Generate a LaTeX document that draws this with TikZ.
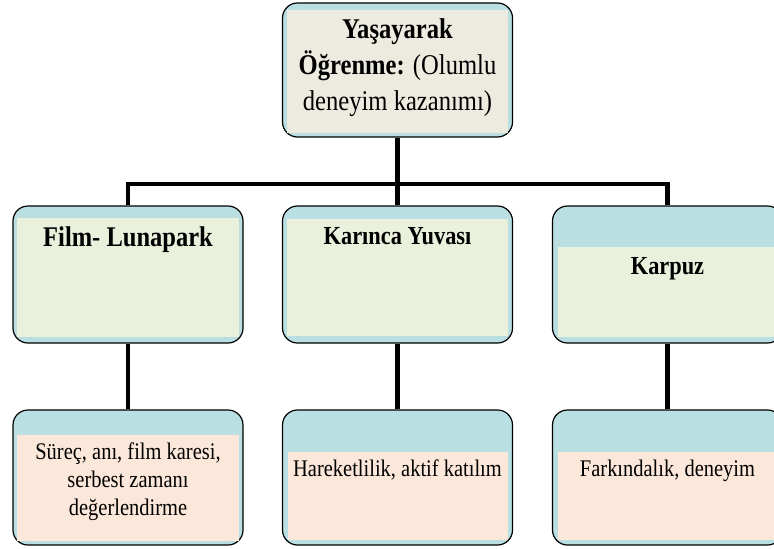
\documentclass[tikz,border=0pt]{standalone}
\usepackage{fontspec}
\setmainfont[FakeStretch=0.86]{Liberation Serif}
\definecolor{disrenk}{HTML}{B9DFE2}
\definecolor{ustic}{HTML}{EDEBE0}
\definecolor{ortaic}{HTML}{E9F0DC}
\definecolor{altic}{HTML}{FCE8DA}
\tikzset{
    kutu/.style={draw, fill=disrenk, rounded corners=15pt, line width=1.2pt, minimum width=230pt, inner sep=0pt},
    bag/.style={line width=4.5pt},
    baslik/.style={font=\bfseries\fontsize{26}{30}\selectfont},
    yazi/.style={font=\fontsize{23.8}{27.8}\selectfont, align=center}
}
\begin{document}
\begin{tikzpicture}[x=1pt,y=-1pt]
        \useasboundingbox (0,0) rectangle (774,549);

        \node[kutu, minimum height=134pt] (ust) at (397.5,70) {};
        \node[kutu, minimum height=137pt] (film) at (128,274.5) {};
        \node[kutu, minimum height=137pt] (karinca) at (397.5,274.5) {};
        \node[kutu, minimum height=137pt] (karpuz) at (667.5,274.5) {};
        \node[kutu, minimum height=135pt] (surec) at (128,477.5) {};
        \node[kutu, minimum height=135pt] (hareket) at (397.5,477.5) {};
        \node[kutu, minimum height=135pt] (farkindalik) at (667.5,477.5) {};

        \fill[ustic] ([shift={(5,8)}]ust.north west) rectangle ([shift={(-5,-5)}]ust.south east);
        \fill[ortaic] ([shift={(5,13)}]film.north west) rectangle ([shift={(-5,-7)}]film.south east);
        \fill[ortaic] ([shift={(5,14)}]karinca.north west) rectangle ([shift={(-5,-8)}]karinca.south east);
        \fill[ortaic] ([shift={(6,42)}]karpuz.north west) rectangle ([shift={(-5,-7)}]karpuz.south east);
        \fill[altic] ([shift={(5,26)}]surec.north west) rectangle ([shift={(-5,-5)}]surec.south east);
        \fill[altic] ([shift={(6,43)}]hareket.north west) rectangle ([shift={(-5,-6)}]hareket.south east);
        \fill[altic] ([shift={(6,43)}]farkindalik.north west) rectangle ([shift={(-5,-6)}]farkindalik.south east);

        \node[align=center, font=\fontsize{28.6}{36}\selectfont] (ust-yazi) at (397.5,67.5) {\textbf{Yaşayarak}\\\textbf{Öğrenme:} (Olumlu\\deneyim kazanımı)};
        \node[baslik, font=\bfseries\fontsize{28.5}{30}\selectfont, anchor=base] (film-yazi) at (128,246.5) {Film- Lunapark};
        \node[baslik, anchor=base] (karinca-yazi) at (397.5,244) {Karınca Yuvası};
        \node[baslik, anchor=base] (karpuz-yazi) at (667.5,274) {Karpuz};
        \node[yazi] (surec-yazi) at (128,481.7) {Süreç, anı, film karesi,\\serbest zamanı\\değerlendirme};
        \node[yazi, anchor=base] (hareket-yazi) at (397.5,476.7) {Hareketlilik, aktif katılım};
        \node[yazi, anchor=base] (farkindalik-yazi) at (667.5,476.7) {Farkındalık, deneyim};

        \coordinate (catal) at (397.5,184);
        \draw[bag] (film.north) |- (catal) -| (karpuz.north);
        \draw[bag] (ust.south) -- (karinca.north);
        \draw[bag] (film.south) -- (surec.north);
        \draw[bag] (karinca.south) -- (hareket.north);
        \draw[bag] (karpuz.south) -- (farkindalik.north);
    \end{tikzpicture}
\end{document}
